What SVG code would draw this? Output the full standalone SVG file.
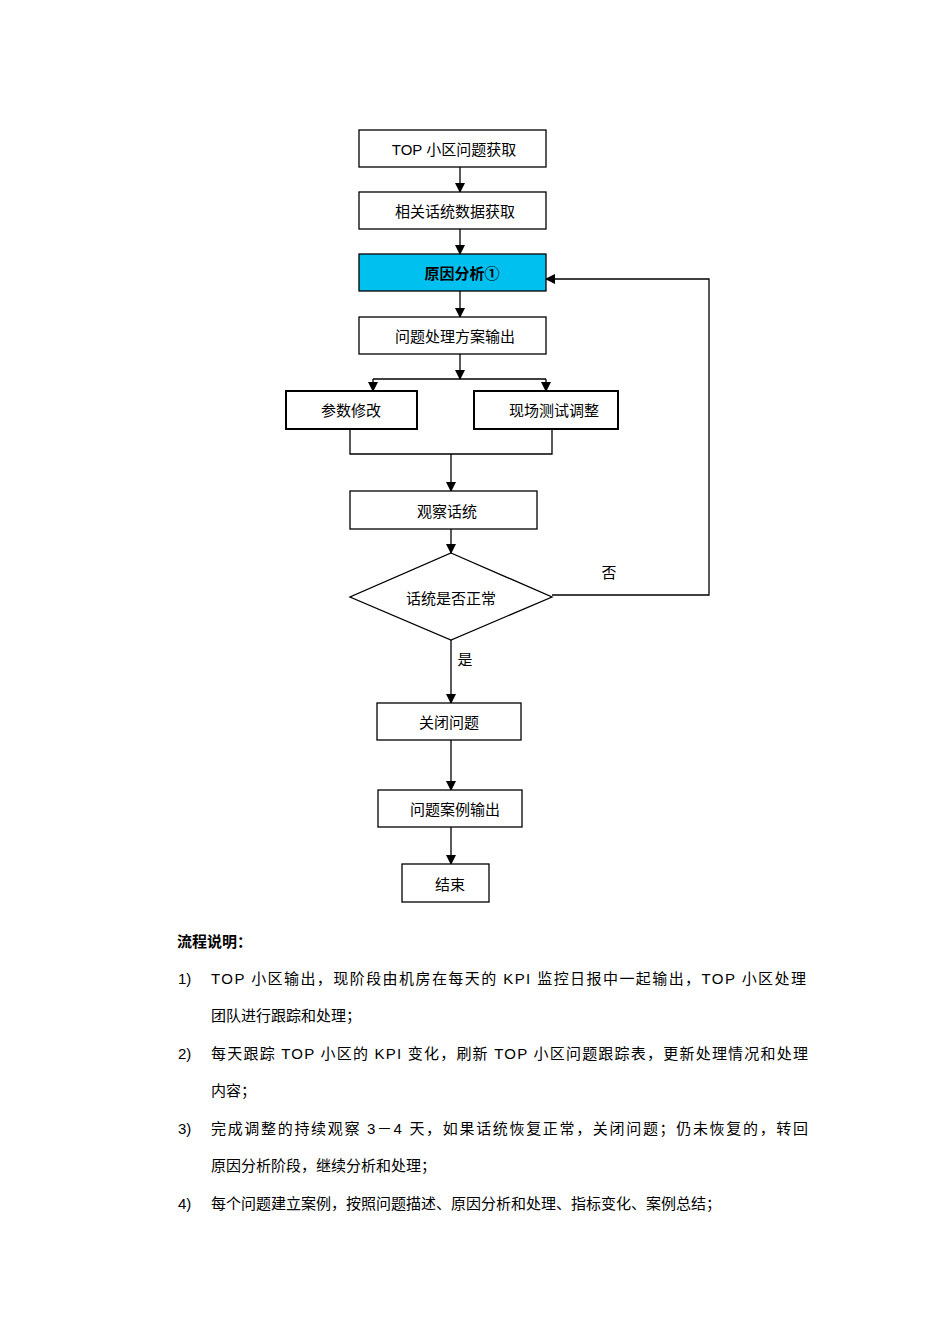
<svg xmlns="http://www.w3.org/2000/svg" width="950" height="1344" viewBox="0 0 950 1344">
<style>
.b{fill:#fff;stroke:#000;stroke-width:1.3}
.k{fill:#fff;stroke:#000;stroke-width:2}
.l{fill:none;stroke:#000;stroke-width:1.3}
text{font-family:"Liberation Sans","Noto Sans CJK SC",sans-serif;font-size:15px;fill:#000}
.c{text-anchor:middle}
</style>
<defs><marker id="a" markerWidth="10" markerHeight="10" refX="9" refY="5" orient="auto" markerUnits="userSpaceOnUse"><path d="M0,0 L10,5 L0,10 z" fill="#000"/></marker></defs>
<rect width="950" height="1344" fill="#fff"/>
<g id="connectors">
<path class="l" d="M460,167 V192" marker-end="url(#a)"/>
<path class="l" d="M460,229 V254" marker-end="url(#a)"/>
<path class="l" d="M460,291 V317" marker-end="url(#a)"/>
<path class="l" d="M460,354 V379" marker-end="url(#a)"/>
<path class="l" d="M373,379 H546"/>
<path class="l" d="M373,379 V391" marker-end="url(#a)"/>
<path class="l" d="M546,379 V391" marker-end="url(#a)"/>
<path class="l" d="M350,429 V454 H552 V429"/>
<path class="l" d="M451,454 V491" marker-end="url(#a)"/>
<path class="l" d="M451,529 V553" marker-end="url(#a)"/>
<path class="l" d="M552,595 H709 V279 H546" marker-end="url(#a)"/>
<path class="l" d="M451,640 V703" marker-end="url(#a)"/>
<path class="l" d="M451,740 V790" marker-end="url(#a)"/>
<path class="l" d="M451,827 V864" marker-end="url(#a)"/>
<text x="609" y="578" class="c">否</text>
<text x="465" y="665" class="c">是</text>
</g>
<g id="n1"><rect class="b" x="359" y="130" width="187" height="37"/><text x="454" y="155" class="c">TOP 小区问题获取</text></g>
<g id="n2"><rect class="b" x="359" y="192" width="187" height="37"/><text x="455" y="217" class="c">相关话统数据获取</text></g>
<g id="n3"><rect x="359" y="254" width="187" height="37" fill="#00c0ef" stroke="#000" stroke-width="1.3"/><text x="462" y="279" class="c" font-weight="bold">原因分析①</text></g>
<g id="n4"><rect class="b" x="359" y="317" width="187" height="37"/><text x="455" y="342" class="c">问题处理方案输出</text></g>
<g id="n5"><rect class="k" x="286" y="391" width="131" height="38"/><text x="351" y="416" class="c">参数修改</text></g>
<g id="n6"><rect class="k" x="474" y="391" width="144" height="38"/><text x="554" y="416" class="c">现场测试调整</text></g>
<g id="n7"><rect class="b" x="350" y="491" width="187" height="38"/><text x="447" y="517" class="c">观察话统</text></g>
<g id="n8"><polygon class="b" points="451,553 552,597 451,640 350,597"/><text x="451" y="604" class="c" font-size="14">话统是否正常</text></g>
<g id="n9"><rect class="b" x="377" y="703" width="144" height="37"/><text x="449" y="728" class="c">关闭问题</text></g>
<g id="n10"><rect class="b" x="378" y="790" width="144" height="37"/><text x="455" y="815" class="c">问题案例输出</text></g>
<g id="n11"><rect class="b" x="402" y="864" width="87" height="38"/><text x="450" y="890" class="c">结束</text></g>
<g id="notes">
<text x="177" y="947" font-weight="bold">流程说明：</text>
<text x="178" y="984">1)</text><text x="211" y="984" textLength="595" lengthAdjust="spacing">TOP 小区输出，现阶段由机房在每天的 KPI 监控日报中一起输出，TOP 小区处理</text>
<text x="211" y="1021">团队进行跟踪和处理；</text>
<text x="178" y="1059">2)</text><text x="211" y="1059" textLength="597" lengthAdjust="spacing">每天跟踪 TOP 小区的 KPI 变化，刷新 TOP 小区问题跟踪表，更新处理情况和处理</text>
<text x="211" y="1096">内容；</text>
<text x="178" y="1134">3)</text><text x="211" y="1134" textLength="597" lengthAdjust="spacing">完成调整的持续观察 3－4 天，如果话统恢复正常，关闭问题；仍未恢复的，转回</text>
<text x="211" y="1171">原因分析阶段，继续分析和处理；</text>
<text x="178" y="1209">4)</text><text x="211" y="1209">每个问题建立案例，按照问题描述、原因分析和处理、指标变化、案例总结；</text>
</g>
</svg>
